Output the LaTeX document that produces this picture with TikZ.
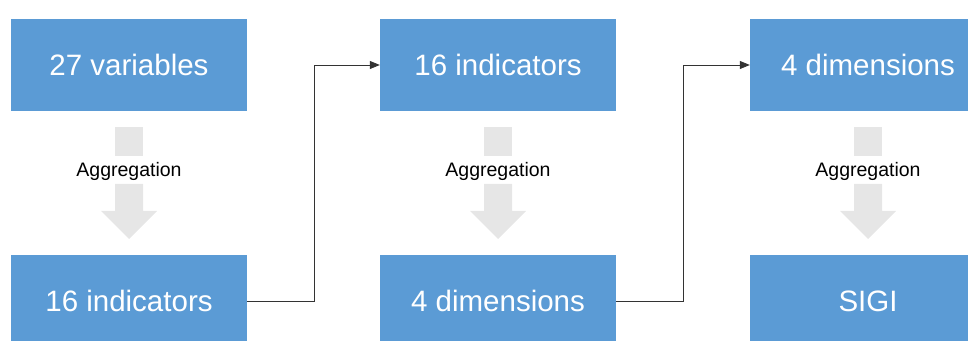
\documentclass[tikz,border=0pt]{standalone}
\usepackage{fontspec}
\setmainfont{Liberation Sans}
\usetikzlibrary{arrows.meta}

\definecolor{boxblue}{HTML}{5B9BD5}
\definecolor{aggrey}{HTML}{E6E6E6}

\tikzset{
  stage/.style={fill=boxblue, text=white, minimum width=236pt, minimum height=92pt,
    inner sep=0pt, font=\fontsize{29.5}{34}\selectfont},
  agglabel/.style={inner sep=1pt, font=\fontsize{19.5}{23}\selectfont},
  aggshape/.style={fill=aggrey},
  link/.style={draw=black!80, line width=0.8pt, -{Triangle[length=10pt,width=8pt]}}
}

\begin{document}
\begin{tikzpicture}[x=1pt, y=1pt]
\useasboundingbox (0,0) rectangle (968,340);
\clip (0,0) rectangle (968,340);

\node[stage] (top1) at (129,275) {27 variables};
\node[stage] (bot1) at (129,39) {16 indicators};
\node[stage] (top2) at (498,275) {16 indicators};
\node[stage] (bot2) at (498,39) {4 dimensions};
\node[stage] (top3) at (868,275) {4 dimensions};
\node[stage] (bot3) at (868,39) {SIGI};

% block arrows between the rows
\fill[aggshape] (115,213) rectangle (143,184);
\fill[aggshape] (115,156) -- (143,156) -- (143,129) -- (157,129) -- (129,101) -- (101,129) -- (115,129) -- cycle;
\node[agglabel] (agg1) at (129,169) {Aggregation};
\fill[aggshape] (484,213) rectangle (512,184);
\fill[aggshape] (484,156) -- (512,156) -- (512,129) -- (526,129) -- (498,101) -- (470,129) -- (484,129) -- cycle;
\node[agglabel] (agg2) at (498,169) {Aggregation};
\fill[aggshape] (854,213) rectangle (882,184);
\fill[aggshape] (854,156) -- (882,156) -- (882,129) -- (896,129) -- (868,101) -- (840,129) -- (854,129) -- cycle;
\node[agglabel] (agg3) at (868,169) {Aggregation};

% links to the next column
\draw[link] (bot1.east) -- ++(67,0) |- (top2.west);
\draw[link] (bot2.east) -- ++(67,0) |- (top3.west);
\end{tikzpicture}
\end{document}
